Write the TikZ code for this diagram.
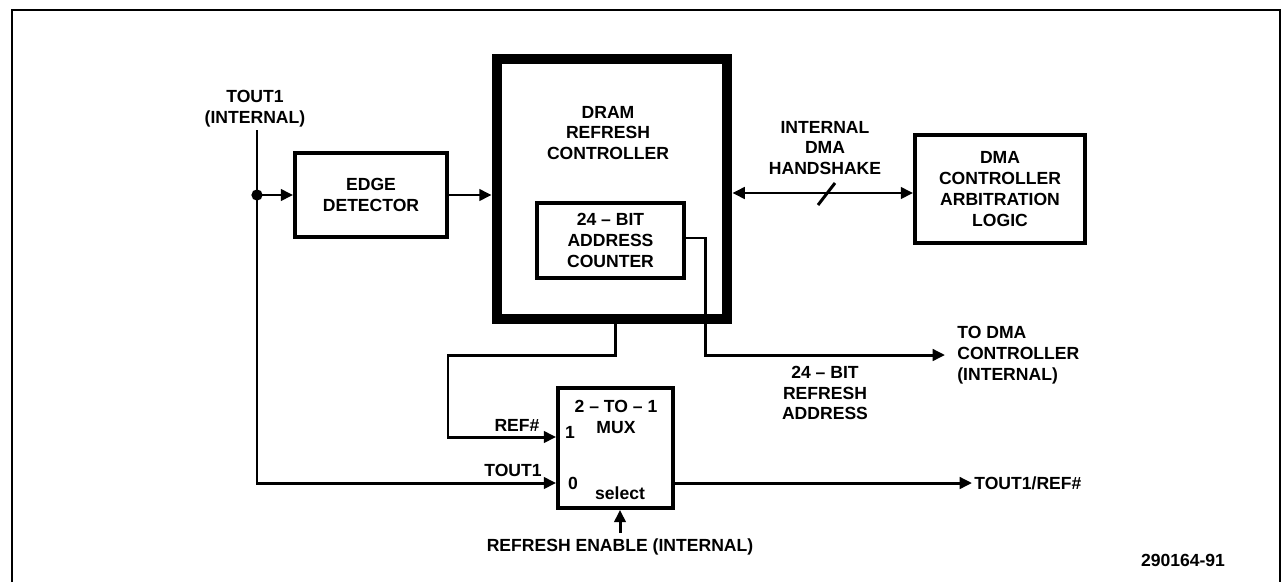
\documentclass[tikz,border=0pt]{standalone}
\usepackage{fontspec}
\setmainfont{Liberation Sans}
\usetikzlibrary{arrows.meta,calc}
\def\upx{0.02cm}
\begin{document}
\begin{tikzpicture}[x=0.02cm,y=-0.02cm,
  every node/.style={font=\fontsize{10}{11.9}\selectfont\bfseries, inner sep=0pt},
  box/.style={draw, line width=2.2pt, align=center},
  thickbox/.style={draw, line width=6.2pt},
  conn/.style={line width=1.7pt},
  arr/.style={conn, -{Triangle[length=7pt,width=6.5pt]}},
  dblarr/.style={conn, {Triangle[length=7pt,width=6.5pt]}-{Triangle[length=7pt,width=6.5pt]}},
  lbl/.style={align=center},
  framestyle/.style={line width=1.1pt}
]
\useasboundingbox (0,0) rectangle (1285,582);
\draw[framestyle] (12,582) -- (12,10) -- (1280,10) -- (1280,582);

% boxes
\node[box, minimum width=152*\upx, minimum height=84*\upx] (edge) at (371,195) {EDGE\\DETECTOR};
\node[thickbox, minimum width=230*\upx, minimum height=260*\upx] (dram) at (612,189) {};
\node[lbl] (dramt) at (608,133) {DRAM\\REFRESH\\CONTROLLER};
\node[box, minimum width=147*\upx, minimum height=75*\upx] (cnt) at (610.5,240.5) {24 – BIT\\ADDRESS\\COUNTER};
\node[box, minimum width=170*\upx, minimum height=108*\upx] (dma) at (1000,189) {DMA\\CONTROLLER\\ARBITRATION\\LOGIC};
\node[box, minimum width=115*\upx, minimum height=120*\upx] (mux) at (615.5,448) {};

% labels
\node[lbl] (muxt) at (616,417) {2 – TO – 1\\MUX};
\node (i1) at (570,432) {1};
\node (i0) at (573,483) {0};
\node (sel) at (620,493) {select};
\node (reft) at (517,425) {REF\#};
\node (toutt) at (513,470) {TOUT1};
\node (rel) at (620,547) {REFRESH ENABLE (INTERNAL)};
\node[lbl] (tin) at (255,108.5) {TOUT1\\(INTERNAL)};
\node[lbl] (hs) at (825,148) {INTERNAL\\DMA\\HANDSHAKE};
\node[lbl] (rad) at (825,393) {24 – BIT\\REFRESH\\ADDRESS};
\node[align=left, anchor=west] (tdma) at (957,355) {TO DMA\\CONTROLLER\\(INTERNAL)};
\node[anchor=west] (outl) at (974,483) {TOUT1/REF\#};
\node (fig) at (1183,560) {290164-91};

% helper coordinates
\coordinate (ttop) at (257,130);
\coordinate (j) at (257,195);
\coordinate (y437) at (0,437);
\coordinate (y483) at (0,483);
\coordinate (y193) at (0,193);
\coordinate (y238) at (0,238);
\coordinate (x615) at (615,0);
\coordinate (c448) at (448,355);
\coordinate (c705) at (705,355);
\coordinate (tdmain) at (945,355);
\coordinate (outend) at (972,483);
\coordinate (selb) at (620,533);
\coordinate (s1) at (818,205);
\coordinate (s2) at (835,183);

% connectors
\draw[arr] (ttop) |- (mux.west |- y483);
\draw[arr] (j) -- (edge.west);
\fill (j) circle[radius=3.2pt];
\draw[arr] (edge.east) -- (edge.east -| dram.west);
\draw[dblarr] (dram.east |- y193) -- (dma.west |- y193);
\draw[conn] (s1) -- (s2);
\draw[arr] (cnt.east |- y238) -| (c705) -- (tdmain);
\draw[arr] (dram.south -| x615) |- (c448) |- (mux.west |- y437);
\draw[arr] (mux.east |- y483) -- (outend);
\draw[arr] (selb) -- (mux.south -| selb);
\end{tikzpicture}
\end{document}
